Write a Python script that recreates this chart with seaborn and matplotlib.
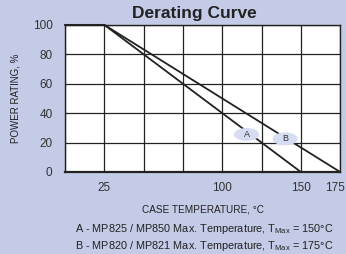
import numpy as np
import pandas as pd
import matplotlib
matplotlib.use('Agg')
import matplotlib.pyplot as plt
import matplotlib.transforms as mtransforms
from matplotlib.patches import Ellipse
import seaborn as sns

# curve A: MP825 / MP850, curve B: MP820 / MP821
temp_a = [0, 25, 150]
power_a = [100, 100, 0]
temp_b = [0, 25, 175]
power_b = [100, 100, 0]

x_ticks = [25, 100, 150, 175]
y_ticks = [0, 20, 40, 60, 80, 100]

# bubble labels on each curve
label_names = ['A', 'B']
label_x = [115.5, 140]
label_y = [25.5, 22.5]

bg = '#c3cbe6'
bubble = '#d6dcf1'
ink = '#222222'

sns.set_style('white')
plt.rcParams['font.family'] = ['Liberation Sans', 'DejaVu Sans']

fig = plt.figure(figsize=(3.46, 2.54), dpi=100, facecolor=bg)
ax = fig.add_axes([0.188, 0.323, 0.795, 0.579])
ax.set_facecolor('white')

df = pd.concat([
    pd.DataFrame({'temp': temp_a, 'power': power_a, 'curve': 'A'}),
    pd.DataFrame({'temp': temp_b, 'power': power_b, 'curve': 'B'}),
])
sns.lineplot(data=df, x='temp', y='power', units='curve', estimator=None,
             color=ink, lw=1.3, sort=False, ax=ax, clip_on=False)

ax.set_xlim(0, 175)
ax.set_ylim(0, 100)
ax.set_xticks(np.arange(0, 176, 25), minor=True)
ax.set_xticks(x_ticks)
ax.set_yticks(y_ticks)
ax.grid(True, which='both', axis='x', color=ink, lw=0.9)
ax.grid(True, axis='y', color=ink, lw=0.9)
ax.tick_params(which='both', length=0, labelsize=8.5, labelcolor='#333333')
ax.tick_params(axis='x', pad=7)
ax.tick_params(axis='y', pad=9)
for s in ax.spines.values():
    s.set_color(ink)
    s.set_linewidth(1.0)
ax.spines['bottom'].set_linewidth(1.6)

# pull the last x label in so it stays on the canvas
last = ax.get_xticklabels()[-1]
last.set_transform(last.get_transform() + mtransforms.ScaledTranslation(-5 / 100, 0, fig.dpi_scale_trans))

for name, lx, ly in zip(label_names, label_x, label_y):
    ax.add_patch(Ellipse((lx, ly), 16, 8.8, fc=bubble, ec='none', zorder=3))
    ax.text(lx, ly, name, ha='center', va='center', fontsize=6.5, color='#333333', zorder=4)

ax.set_xlabel('CASE TEMPERATURE, °C', fontsize=7.2, color='#222222', labelpad=8)
ax.set_ylabel('POWER RATING, %', fontsize=7, color='#222222', labelpad=9)
ax.set_title('Derating Curve', fontsize=12.5, fontweight='bold', color='#222222', pad=5, x=0.47)

fig.text(0.59, 0.10, 'A - MP825 / MP850 Max. Temperature, T$_{\\mathregular{Max}}$ = 150°C',
         ha='center', va='center', fontsize=7.8, color='#222222')
fig.text(0.59, 0.033, 'B - MP820 / MP821 Max. Temperature, T$_{\\mathregular{Max}}$ = 175°C',
         ha='center', va='center', fontsize=7.8, color='#222222')

fig.savefig('out.png', dpi=100, facecolor=bg)
